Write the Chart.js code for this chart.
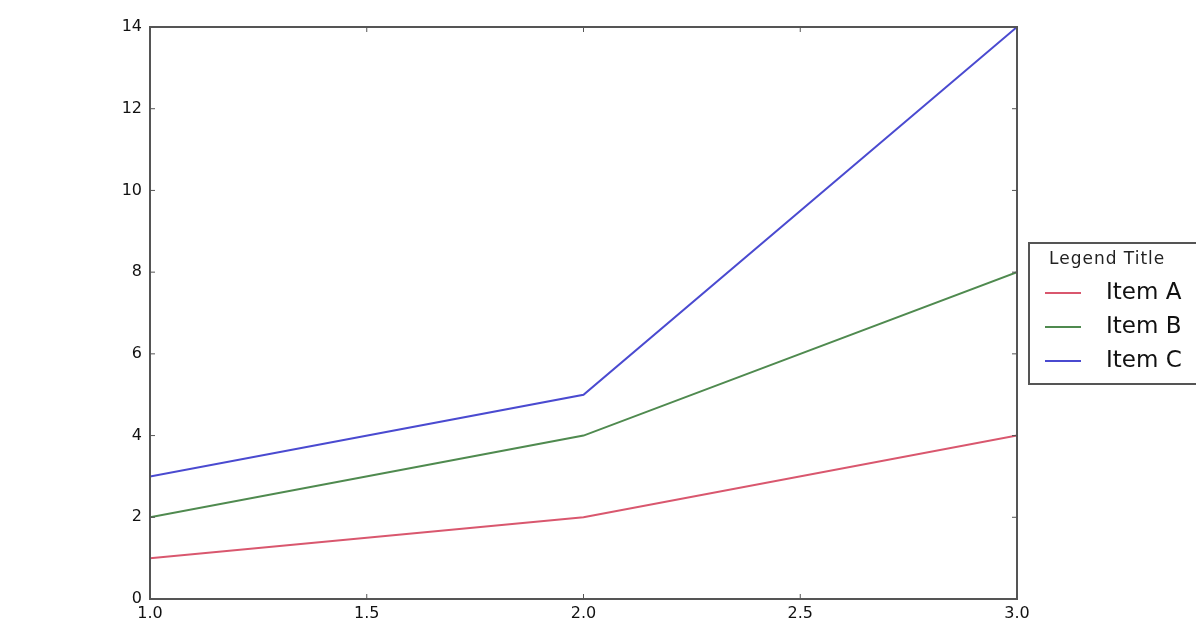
<!DOCTYPE html>
<html>
<head>
<meta charset="utf-8">
<script src="https://cdn.jsdelivr.net/npm/chart.js@4/dist/chart.umd.min.js"></script>
<style>
    html, body { margin: 0; padding: 0; background: #fff; }
    #wrap { width: 1196px; height: 628px; position: relative; }
</style>
</head>
<body>
<div id="wrap"><canvas id="graph" width="1196" height="628"></canvas></div>
<script>
const xValues = [1.0, 2.0, 3.0];
const itemA = [1, 2, 4];
const itemB = [2, 4, 8];
const itemC = [3, 5, 14];
const seriesLabels = ['Item A', 'Item B', 'Item C'];
const seriesColors = ['#d9576e', '#4f8a4f', '#4a4ad0'];
const legendTitle = 'Legend Title';

const font = "'DejaVu Sans', sans-serif";
const axisColor = '#555';

function toPoints(values) {
    return xValues.map((x, i) => ({ x: x, y: values[i] }));
}

// frame + inward ticks, like the old matplotlib look
const framePlugin = {
    id: 'frame',
    afterDraw(chart) {
        const ctx = chart.ctx;
        const a = chart.chartArea;
        const xs = chart.scales.x;
        const ys = chart.scales.y;
        ctx.save();
        ctx.strokeStyle = axisColor;
        ctx.lineWidth = 2;
        ctx.strokeRect(a.left, a.top, a.right - a.left, a.bottom - a.top);
        ctx.lineWidth = 1;
        xs.ticks.forEach(t => {
            const px = xs.getPixelForValue(t.value);
            ctx.beginPath();
            ctx.moveTo(px, a.bottom); ctx.lineTo(px, a.bottom - 5);
            ctx.moveTo(px, a.top); ctx.lineTo(px, a.top + 5);
            ctx.stroke();
        });
        ys.ticks.forEach(t => {
            const py = ys.getPixelForValue(t.value);
            ctx.beginPath();
            ctx.moveTo(a.left, py); ctx.lineTo(a.left + 5, py);
            ctx.moveTo(a.right, py); ctx.lineTo(a.right - 5, py);
            ctx.stroke();
        });
        ctx.restore();
    }
};

// legend box sitting outside the plot on the right
const boxLegend = {
    id: 'boxLegend',
    afterDraw(chart) {
        const ctx = chart.ctx;
        const a = chart.chartArea;
        const left = a.right + 12;
        const top = 243;
        const w = 200;
        const h = 141;
        ctx.save();
        ctx.fillStyle = '#fff';
        ctx.fillRect(left, top, w, h);
        ctx.strokeStyle = axisColor;
        ctx.lineWidth = 2;
        ctx.strokeRect(left, top, w, h);

        ctx.fillStyle = '#222';
        ctx.font = '17px ' + font;
        ctx.textBaseline = 'middle';
        ctx.letterSpacing = '1px';
        ctx.fillText(legendTitle, left + 20, top + 17);
        ctx.letterSpacing = '0px';

        ctx.font = '23px ' + font;
        chart.data.datasets.forEach((ds, i) => {
            const y = top + 50 + i * 34;
            ctx.strokeStyle = ds.borderColor;
            ctx.lineWidth = 2;
            ctx.beginPath();
            ctx.moveTo(left + 16, y);
            ctx.lineTo(left + 52, y);
            ctx.stroke();
            ctx.fillStyle = '#111';
            ctx.fillText(ds.label, left + 77, y);
        });
        ctx.restore();
    }
};

const datasets = [itemA, itemB, itemC].map((vals, i) => ({
    label: seriesLabels[i],
    data: toPoints(vals),
    borderColor: seriesColors[i],
    backgroundColor: seriesColors[i],
    borderWidth: 2,
    pointRadius: 0,
    tension: 0,
    fill: false
}));

new Chart(document.getElementById('graph').getContext('2d'), {
    type: 'line',
    data: { datasets: datasets },
    options: {
        responsive: false,
        animation: false,
        layout: { padding: { top: 27, right: 179, bottom: 0, left: 0 } },
        plugins: {
            legend: { display: false },
            tooltip: { enabled: false }
        },
        scales: {
            x: {
                type: 'linear',
                min: 1.0,
                max: 3.0,
                grid: { display: false, drawTicks: false },
                border: { display: false },
                afterFit(scale) { scale.height = 29; },
                ticks: {
                    stepSize: 0.5,
                    padding: 5,
                    color: '#111',
                    font: { family: font, size: 16 },
                    callback: v => v.toFixed(1),
                    maxRotation: 0
                }
            },
            y: {
                min: 0,
                max: 14,
                grid: { display: false, drawTicks: false },
                border: { display: false },
                afterFit(scale) { scale.width = 150; },
                ticks: {
                    stepSize: 2,
                    padding: 8,
                    color: '#111',
                    font: { family: font, size: 16 }
                }
            }
        }
    },
    plugins: [framePlugin, boxLegend]
});
</script>
</body>
</html>
